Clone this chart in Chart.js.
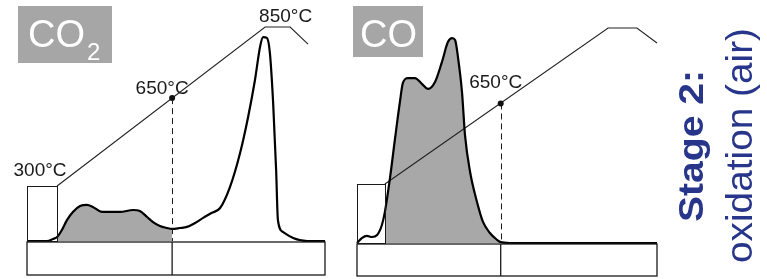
<!DOCTYPE html>
<html>
<head>
<meta charset="utf-8">
<script src="https://cdn.jsdelivr.net/npm/chart.js@4.4.0/dist/chart.umd.min.js"></script>
<style>
    body { margin: 0; background: #fff; }
    #co2Chart { position: absolute; left: 0; top: 0; }
    #coChart { position: absolute; left: 340px; top: 0; }
</style>
</head>
<body>
<canvas id="co2Chart" width="340" height="279"></canvas>
<canvas id="coChart" width="427" height="279"></canvas>
<script>
// --- Data (time in % of run, signal in a.u., temperature in °C) ---
const co2Time   = [0, 4.4, 6.7, 8.7, 10.1, 11.7, 13.4, 15.4, 17.8, 20.1, 22.1, 25.2, 27.9, 31.2, 35.6, 37.9, 40.3, 42.3, 44.6, 47.0, 48.7,
                   51.3, 53.7, 56.4, 59.1, 61.9, 64.8, 68.1, 71.5, 74.2, 76.5, 78.2, 79.2, 80.5, 81.5, 82.6, 83.6, 84.2, 85.9, 89.3, 94.0, 100];
const co2Signal = [0, 0, 0, 0.9, 1.8, 5.0, 9.5, 13.2, 15.9, 16.4, 15.5, 13.2, 13.2, 13.2, 14.1, 13.6, 10.9, 8.6, 6.8, 5.9, 5.5,
                   5.9, 6.4, 8.2, 10.5, 12.7, 15.0, 24.5, 40.0, 56.4, 73.2, 88.2, 92.7, 92.3, 85.5, 62.7, 32.3, 9.5, 4.1, 1.4, 0, 0];

const coTime   = [0, 1.7, 3.3, 5.0, 6.7, 8.3, 9.3, 11.0, 12.7, 14.3, 15.3, 17.0, 19.3, 21.7, 23.7, 26.0, 28.3, 30.3, 31.7, 32.7,
                  33.7, 35.0, 36.0, 37.7, 40.0, 42.0, 44.3, 46.7, 47.7, 51.0, 100];
const coSignal = [0, 2.3, 3.2, 2.7, 3.6, 8.1, 14.0, 29.3, 47.3, 63.5, 72.1, 74.3, 74.3, 71.6, 69.4, 72.5, 81.5, 90.5, 92.3, 91.4,
                  83.3, 68.0, 48.6, 32.0, 18.5, 9.5, 4.5, 1.4, 0.5, 0, 0];

// temperature program: ramp start, plateau start, plateau end, cooling
const co2TempTime  = [10.1, 79.9, 88.3, 94.3];
const co2TempValue = [300, 850, 850, 791];
const coTempTime   = [9.3, 83.7, 93.3, 100];
const coTempValue  = [300, 850, 850, 797];

// shaded part of each profile and the marked point on the ramp
const co2Shade = [10.1, 48.7];
const coShade  = [9.3, 47.7];
const markerTime = [48.7, 47.9];
const markerTemp = [604, 584];

const tempLabels = ['300°C', '650°C', '850°C'];
const stageLines = ['Stage 2:', 'oxidation (air)'];

// --- Helpers ---
function toPoints(xs, ys) {
    return xs.map((t, i) => ({ x: t, y: ys[i] }));
}

function shadePoints(xs, ys, range) {
    return toPoints(xs, ys).filter(p => p.x >= range[0] && p.x <= range[1]);
}

// --- Plugin: boxes, labels, dashed marker, stage text ---
function panelDecor(cfg) {
    return {
        id: 'panelDecor',
        afterDatasetsDraw(chart) {
            const ctx = chart.ctx;
            const x = chart.scales.x;
            const yT = chart.scales.yT;
            const area = chart.chartArea;
            const x0 = x.getPixelForValue(0);
            const x1 = x.getPixelForValue(cfg.rampStart);
            const xEnd = x.getPixelForValue(100);
            const yBase = area.bottom;
            const yIso = yT.getPixelForValue(300);
            const xm = x.getPixelForValue(cfg.markerTime);
            const ym = yT.getPixelForValue(cfg.markerTemp);

            ctx.save();
            ctx.strokeStyle = '#1a1a1a';
            ctx.lineWidth = 1;

            // isothermal box at 300°C
            ctx.strokeRect(Math.round(x0) + 0.5, Math.round(yIso) + 0.5, Math.round(x1 - x0), Math.round(yBase - yIso));

            // dashed marker
            ctx.setLineDash([6, 4]);
            ctx.beginPath();
            ctx.moveTo(Math.round(xm) + 0.5, ym);
            ctx.lineTo(Math.round(xm) + 0.5, yBase);
            ctx.stroke();
            ctx.setLineDash([]);

            // stage bar under the profile
            ctx.lineWidth = 1.3;
            ctx.strokeRect(x0, yBase + 1, xEnd - x0, cfg.barHeight);
            ctx.beginPath();
            ctx.moveTo(xm, yBase + 1);
            ctx.lineTo(xm, yBase + 1 + cfg.barHeight);
            ctx.stroke();

            // marker dot
            ctx.fillStyle = '#111';
            ctx.beginPath();
            ctx.arc(xm, ym, 3, 0, Math.PI * 2);
            ctx.fill();

            // temperature labels
            ctx.fillStyle = '#1a1a1a';
            ctx.font = '19px "Liberation Sans", Arial, sans-serif';
            ctx.textAlign = 'center';
            ctx.textBaseline = 'alphabetic';
            if (cfg.showLow) {
                ctx.fillText(tempLabels[0], (x0 + x1) / 2 - 2, yIso - 10);
            }
            ctx.fillText(tempLabels[1], xm + cfg.midDx, ym + cfg.midDy);
            if (cfg.showHigh) {
                const xp = (x.getPixelForValue(cfg.plateau[0]) + x.getPixelForValue(cfg.plateau[1])) / 2;
                ctx.fillText(tempLabels[2], xp + 8, yT.getPixelForValue(850) - 5);
            }

            // gas label
            const g = cfg.gas;
            ctx.fillStyle = '#a6a6a6';
            ctx.fillRect(g.left, g.top, g.width, g.height);
            ctx.fillStyle = '#fff';
            ctx.textAlign = 'left';
            ctx.font = '38px "Liberation Sans", Arial, sans-serif';
            ctx.fillText('CO', g.textLeft, 47);
            if (g.sub) {
                ctx.font = '24px "Liberation Sans", Arial, sans-serif';
                ctx.fillText(g.sub, g.subLeft, 60);
            }

            // stage text
            if (cfg.stage) {
                ctx.fillStyle = '#27358a';
                cfg.stage.forEach((s, i) => {
                    ctx.save();
                    ctx.font = s.font;
                    const w = ctx.measureText(stageLines[i]).width;
                    ctx.translate(s.baseX, s.startY);
                    ctx.rotate(-Math.PI / 2);
                    ctx.scale((s.startY - s.endY) / w, 1);
                    ctx.fillText(stageLines[i], 0, 0);
                    ctx.restore();
                });
            }
            ctx.restore();
        }
    };
}

// --- Chart builder ---
function makePanel(canvasId, times, signal, tempTime, tempValue, shade, tMin, tMax, padding, decor) {
    new Chart(document.getElementById(canvasId), {
        type: 'line',
        data: {
            datasets: [
                {
                    data: toPoints(times, signal),
                    borderColor: '#000',
                    borderWidth: 2.2,
                    pointRadius: 0,
                    fill: false,
                    cubicInterpolationMode: 'monotone',
                    clip: false,
                    order: 1
                },
                {
                    data: toPoints(tempTime, tempValue),
                    yAxisID: 'yT',
                    borderColor: '#222',
                    borderWidth: 1.1,
                    pointRadius: 0,
                    fill: false,
                    tension: 0,
                    clip: false,
                    order: 2
                },
                {
                    data: shadePoints(times, signal, shade),
                    borderWidth: 0,
                    borderColor: 'transparent',
                    backgroundColor: '#a8a8a8',
                    pointRadius: 0,
                    fill: 'origin',
                    cubicInterpolationMode: 'monotone',
                    order: 3
                }
            ]
        },
        options: {
            responsive: false,
            animation: false,
            devicePixelRatio: 1,
            layout: { padding: padding },
            plugins: {
                legend: { display: false },
                tooltip: { enabled: false }
            },
            scales: {
                x: { type: 'linear', min: 0, max: 100, display: false },
                y: { min: 0, max: 100, display: false },
                yT: { position: 'right', min: tMin, max: tMax, display: false }
            }
        },
        plugins: [panelDecor(decor)]
    });
}

// --- CO2 panel ---
makePanel('co2Chart', co2Time, co2Signal, co2TempTime, co2TempValue, co2Shade, 109.75, 870.75,
    { left: 27, right: 15, top: 21, bottom: 38 },
    {
        rampStart: co2TempTime[0], markerTime: markerTime[0], markerTemp: markerTemp[0],
        plateau: [co2TempTime[1], co2TempTime[2]], barHeight: 33,
        showLow: true, showHigh: true, midDx: -10, midDy: -4,
        gas: { left: 18, top: 6, width: 94, height: 57, textLeft: 28, sub: '2', subLeft: 87 }
    });

// --- CO panel ---
makePanel('coChart', coTime, coSignal, coTempTime, coTempValue, coShade, 92, 874.7,
    { left: 17, right: 110, top: 21, bottom: 36 },
    {
        rampStart: coTempTime[0], markerTime: markerTime[1], markerTemp: markerTemp[1],
        plateau: [coTempTime[1], coTempTime[2]], barHeight: 32,
        showLow: false, showHigh: false, midDx: -5, midDy: -15,
        gas: { left: 13, top: 6, width: 70, height: 51, textLeft: 20, sub: null },
        stage: [
            { font: 'bold 35px "Liberation Sans", Arial, sans-serif', baseX: 363, startY: 222, endY: 70 },
            { font: '37px "Liberation Sans", Arial, sans-serif', baseX: 412, startY: 263, endY: 28 }
        ]
    });
</script>
</body>
</html>
